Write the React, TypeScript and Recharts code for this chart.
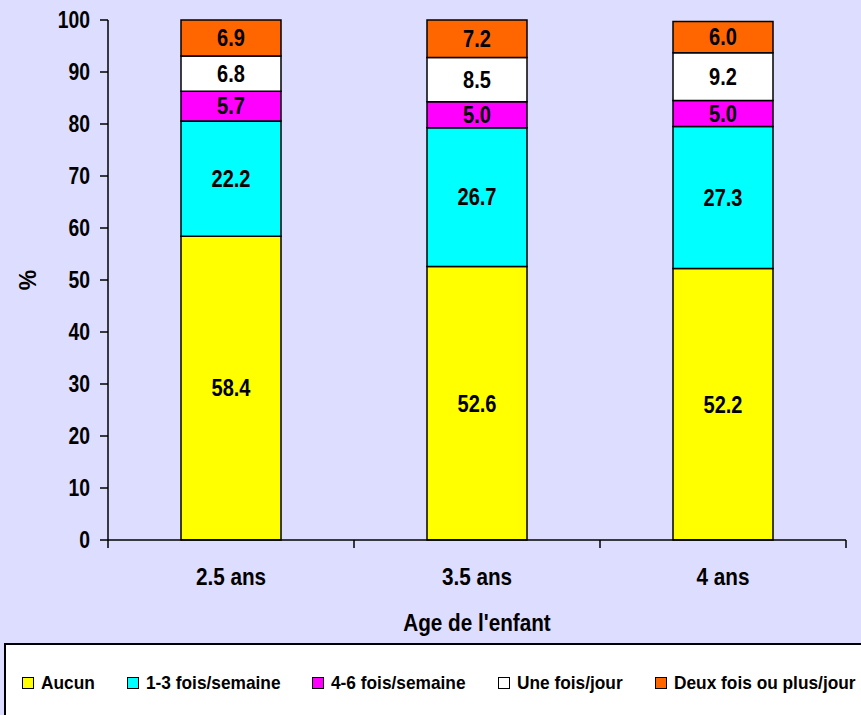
import React from "react";
import { BarChart, Bar, XAxis, YAxis, LabelList } from "recharts";

const categories = ["2.5 ans", "3.5 ans", "4 ans"];
const aucun = [58.4, 52.6, 52.2];
const unATrois = [22.2, 26.7, 27.3];
const quatreASix = [5.7, 5.0, 5.0];
const uneFois = [6.8, 8.5, 9.2];
const deuxFois = [6.9, 7.2, 6.0];
const yTicks = [0, 10, 20, 30, 40, 50, 60, 70, 80, 90, 100];

const series = [
  { key: "aucun", name: "Aucun", color: "#FFFF00", values: aucun },
  { key: "unATrois", name: "1-3 fois/semaine", color: "#00FFFF", values: unATrois },
  { key: "quatreASix", name: "4-6 fois/semaine", color: "#FF00FF", values: quatreASix },
  { key: "uneFois", name: "Une fois/jour", color: "#FFFFFF", values: uneFois },
  { key: "deuxFois", name: "Deux fois ou plus/jour", color: "#FF6600", values: deuxFois },
];

const data = categories.map((age, i) => {
  const row: Record<string, string | number> = { age };
  series.forEach((s) => (row[s.key] = s.values[i]));
  return row;
});

// no narrow face installed, so squeeze Liberation Sans horizontally
const FONT = "'Liberation Sans', Arial, sans-serif";
const BG = "#DDDDFF";

const W = 861;
const H = 715;
const Y_AXIS_W = 108;
const RIGHT = 15;
const X_TICK_SIZE = 8;
const X_TICK_MARGIN = 21;

function Narrow({ x, y, dy, anchor, size, squeeze, children, rotate }: any) {
  const t = rotate
    ? `rotate(${rotate} ${x} ${y}) translate(${x} 0) scale(${squeeze} 1) translate(${-x} 0)`
    : `translate(${x} 0) scale(${squeeze} 1) translate(${-x} 0)`;
  return (
    <text
      x={x}
      y={y}
      dy={dy}
      textAnchor={anchor}
      transform={t}
      fill="#000"
      fontSize={size}
      fontWeight="bold"
      fontFamily={FONT}
    >
      {children}
    </text>
  );
}

const YTick = (p: any) => (
  <Narrow x={p.x} y={p.y} dy="0.36em" anchor="end" size={23} squeeze={0.84}>
    {p.payload.value}
  </Narrow>
);

// category label + tick marks on the band edges (Excel style)
const XTick = (p: any) => {
  const half = p.payload.offset || (W - Y_AXIS_W - RIGHT) / categories.length / 2;
  const y0 = p.y - X_TICK_MARGIN - X_TICK_SIZE;
  const last = p.index === categories.length - 1;
  return (
    <g>
      <line x1={p.x - half} x2={p.x - half} y1={y0} y2={y0 + X_TICK_SIZE} stroke="#000" strokeWidth={1.5} />
      {last && (
        <line x1={p.x + half} x2={p.x + half} y1={y0} y2={y0 + X_TICK_SIZE} stroke="#000" strokeWidth={1.5} />
      )}
      <Narrow x={p.x} y={p.y} dy="0.71em" anchor="middle" size={23} squeeze={0.9}>
        {p.payload.value}
      </Narrow>
    </g>
  );
};

const BarValue = (p: any) => (
  <Narrow
    x={p.x + p.width / 2}
    y={p.y + p.height / 2}
    dy="0.36em"
    anchor="middle"
    size={23}
    squeeze={0.87}
  >
    {Number(p.value).toFixed(1)}
  </Narrow>
);

let ctx: CanvasRenderingContext2D | null = null;
function measure(text: string, size: number) {
  if (!ctx) ctx = document.createElement("canvas").getContext("2d");
  if (!ctx) return text.length * size * 0.55;
  ctx.font = `bold ${size}px ${FONT}`;
  return ctx.measureText(text).width;
}

const LEGEND_SIZE = 19;
const LEGEND_SQUEEZE = 0.91;

export default function App() {
  return (
    <div
      style={{
        position: "absolute",
        left: 0,
        top: 0,
        width: W,
        height: H,
        overflow: "hidden",
        background: BG,
        fontFamily: FONT,
      }}
    >
      <BarChart
        width={W}
        height={H}
        data={data}
        margin={{ top: 20, right: RIGHT, bottom: 0, left: 0 }}
      >
        <XAxis
          dataKey="age"
          height={175}
          tickLine={false}
          tickSize={X_TICK_SIZE}
          tickMargin={X_TICK_MARGIN}
          axisLine={{ stroke: "#000", strokeWidth: 1.5 }}
          tick={XTick}
          label={{
            content: ({ viewBox }: any) => (
              <Narrow
                x={viewBox.x + viewBox.width / 2}
                y={viewBox.y + 91}
                anchor="middle"
                size={23}
                squeeze={0.9}
              >
                Age de l'enfant
              </Narrow>
            ),
          }}
        />
        <YAxis
          width={Y_AXIS_W}
          domain={[0, 100]}
          ticks={yTicks}
          interval={0}
          tickSize={8}
          tickMargin={10}
          axisLine={{ stroke: "#000", strokeWidth: 1.5 }}
          tickLine={{ stroke: "#000", strokeWidth: 1.5 }}
          tick={YTick}
          label={{
            content: ({ viewBox }: any) => (
              <Narrow
                x={viewBox.x + 36}
                y={viewBox.y + viewBox.height / 2}
                anchor="middle"
                size={23}
                squeeze={1}
                rotate={-90}
              >
                %
              </Narrow>
            ),
          }}
        />
        {series.map((s) => (
          <Bar
            key={s.key}
            dataKey={s.key}
            name={s.name}
            stackId="a"
            fill={s.color}
            stroke="#000"
            strokeWidth={1.5}
            barSize={100}
            isAnimationActive={false}
          >
            <LabelList dataKey={s.key} content={BarValue} />
          </Bar>
        ))}
      </BarChart>
      <div
        style={{
          position: "absolute",
          left: 4,
          top: 643,
          width: 900,
          height: 100,
          background: "#fff",
          border: "2px solid #000",
          boxSizing: "border-box",
          display: "flex",
          alignItems: "flex-start",
          paddingLeft: 16,
          paddingTop: 27,
        }}
      >
        {series.map((s) => {
          const w = measure(s.name, LEGEND_SIZE);
          return (
            <div
              key={s.key}
              style={{
                display: "flex",
                alignItems: "center",
                marginRight: 32,
                fontSize: LEGEND_SIZE,
                fontWeight: "bold",
                whiteSpace: "nowrap",
              }}
            >
              <span
                style={{
                  display: "inline-block",
                  boxSizing: "border-box",
                  width: 12,
                  height: 12,
                  background: s.color,
                  border: "1.5px solid #000",
                  marginRight: 7,
                }}
              />
              <span style={{ display: "inline-block", width: w * LEGEND_SQUEEZE }}>
                <span
                  style={{
                    display: "inline-block",
                    transform: `scaleX(${LEGEND_SQUEEZE})`,
                    transformOrigin: "0 50%",
                  }}
                >
                  {s.name}
                </span>
              </span>
            </div>
          );
        })}
      </div>
    </div>
  );
}
